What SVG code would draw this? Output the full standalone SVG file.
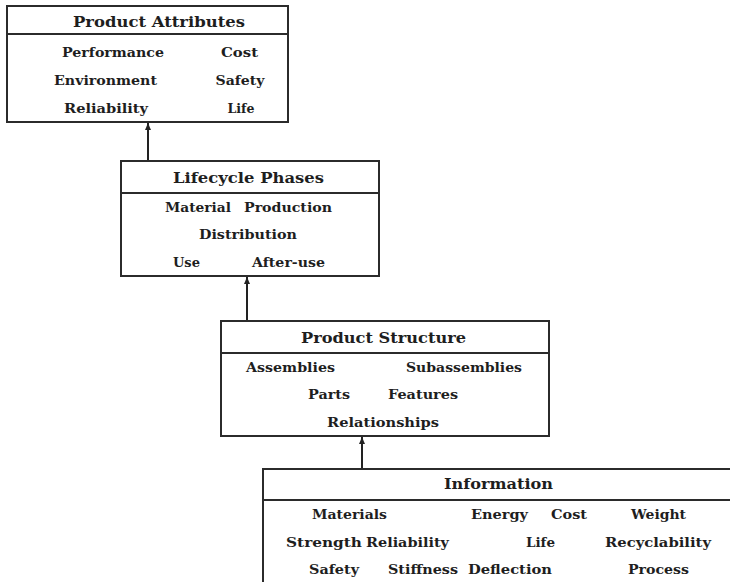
<svg xmlns="http://www.w3.org/2000/svg" width="730" height="582" viewBox="0 0 730 582">
<defs>
<marker id="ah" markerWidth="8" markerHeight="8" refX="7" refY="4" orient="auto" markerUnits="userSpaceOnUse" viewBox="0 0 8 8">
<path d="M0,1 L7,4 L0,7 Z" fill="#222"/>
</marker>
<style>
.box{fill:#fff;stroke:#2b2b2b;stroke-width:2}
.div{stroke:#2b2b2b;stroke-width:2}
.t{font-family:"DejaVu Serif","Liberation Serif",serif;font-weight:bold;font-size:15.5px;fill:#1e1e1e;text-anchor:middle}
.b{font-family:"DejaVu Serif","Liberation Serif",serif;font-weight:bold;font-size:13px;fill:#1e1e1e;text-anchor:middle}
.c{stroke:#222;stroke-width:2;fill:none}
</style>
</defs>
<rect width="730" height="582" fill="#fff"/>
<g id="connectors">
<line class="c" x1="148" y1="161" x2="148" y2="123" marker-end="url(#ah)"/>
<line class="c" x1="247" y1="321" x2="247" y2="277" marker-end="url(#ah)"/>
<line class="c" x1="362" y1="469" x2="362" y2="437" marker-end="url(#ah)"/>
</g>
<g id="product-attributes">
<rect class="box" x="7" y="6" width="281" height="116"/>
<line class="div" x1="7" y1="34" x2="288" y2="34"/>
<text class="t" x="159" y="27" textLength="172" lengthAdjust="spacingAndGlyphs">Product Attributes</text>
<text class="b" x="113" y="57" textLength="102" lengthAdjust="spacingAndGlyphs">Performance</text>
<text class="b" x="239.5" y="57" textLength="37" lengthAdjust="spacingAndGlyphs">Cost</text>
<text class="b" x="105.5" y="85" textLength="103" lengthAdjust="spacingAndGlyphs">Environment</text>
<text class="b" x="240" y="85" textLength="49" lengthAdjust="spacingAndGlyphs">Safety</text>
<text class="b" x="106" y="113" textLength="84" lengthAdjust="spacingAndGlyphs">Reliability</text>
<text class="b" x="241" y="113" textLength="27" lengthAdjust="spacingAndGlyphs">Life</text>
</g>
<g id="lifecycle-phases">
<rect class="box" x="121" y="161" width="258" height="115"/>
<line class="div" x1="121" y1="193" x2="379" y2="193"/>
<text class="t" x="248.5" y="183" textLength="151" lengthAdjust="spacingAndGlyphs">Lifecycle Phases</text>
<text class="b" x="198" y="212" textLength="66" lengthAdjust="spacingAndGlyphs">Material</text>
<text class="b" x="288" y="212" textLength="88" lengthAdjust="spacingAndGlyphs">Production</text>
<text class="b" x="248" y="239" textLength="98" lengthAdjust="spacingAndGlyphs">Distribution</text>
<text class="b" x="186.5" y="267" textLength="27" lengthAdjust="spacingAndGlyphs">Use</text>
<text class="b" x="288.5" y="267" textLength="73" lengthAdjust="spacingAndGlyphs">After-use</text>
</g>
<g id="product-structure">
<rect class="box" x="221" y="321" width="328" height="115"/>
<line class="div" x1="221" y1="353" x2="549" y2="353"/>
<text class="t" x="383.5" y="343" textLength="165" lengthAdjust="spacingAndGlyphs">Product Structure</text>
<text class="b" x="290.5" y="372" textLength="89" lengthAdjust="spacingAndGlyphs">Assemblies</text>
<text class="b" x="464" y="372" textLength="116" lengthAdjust="spacingAndGlyphs">Subassemblies</text>
<text class="b" x="329" y="399" textLength="42" lengthAdjust="spacingAndGlyphs">Parts</text>
<text class="b" x="423" y="399" textLength="70" lengthAdjust="spacingAndGlyphs">Features</text>
<text class="b" x="383" y="427" textLength="112" lengthAdjust="spacingAndGlyphs">Relationships</text>
</g>
<g id="information">
<rect class="box" x="263" y="469" width="490" height="140"/>
<line class="div" x1="263" y1="500" x2="730" y2="500"/>
<text class="t" x="498.5" y="489" textLength="109" lengthAdjust="spacingAndGlyphs">Information</text>
<text class="b" x="349.5" y="519" textLength="75" lengthAdjust="spacingAndGlyphs">Materials</text>
<text class="b" x="499.5" y="519" textLength="57" lengthAdjust="spacingAndGlyphs">Energy</text>
<text class="b" x="569" y="519" textLength="36" lengthAdjust="spacingAndGlyphs">Cost</text>
<text class="b" x="658.5" y="519" textLength="55" lengthAdjust="spacingAndGlyphs">Weight</text>
<text class="b" x="324" y="547" textLength="76" lengthAdjust="spacingAndGlyphs">Strength</text>
<text class="b" x="407.5" y="547" textLength="83" lengthAdjust="spacingAndGlyphs">Reliability</text>
<text class="b" x="540.5" y="547" textLength="29" lengthAdjust="spacingAndGlyphs">Life</text>
<text class="b" x="658" y="547" textLength="106" lengthAdjust="spacingAndGlyphs">Recyclability</text>
<text class="b" x="334" y="574" textLength="50" lengthAdjust="spacingAndGlyphs">Safety</text>
<text class="b" x="423" y="574" textLength="70" lengthAdjust="spacingAndGlyphs">Stiffness</text>
<text class="b" x="510" y="574" textLength="84" lengthAdjust="spacingAndGlyphs">Deflection</text>
<text class="b" x="658.5" y="574" textLength="61" lengthAdjust="spacingAndGlyphs">Process</text>
</g>
</svg>
